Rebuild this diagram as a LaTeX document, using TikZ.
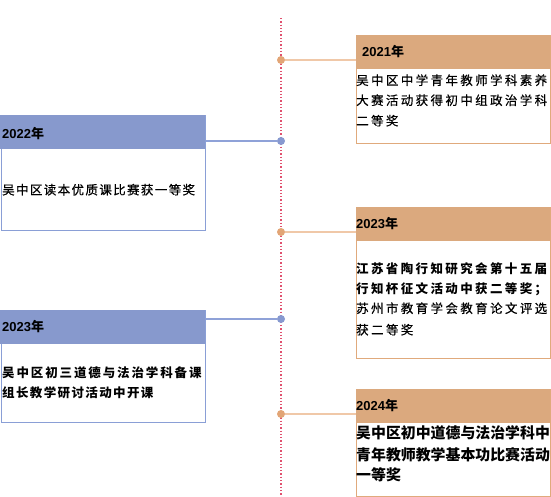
\documentclass[tikz,border=0pt]{standalone}
\usepackage{fontspec}
\setmainfont{Liberation Sans}
\newfontfamily\cjk{Noto Sans CJK SC}
\definecolor{hdrO}{RGB}{219,169,126}
\definecolor{brdO}{RGB}{224,170,124}
\definecolor{conO}{RGB}{240,200,168}
\definecolor{dotOc}{RGB}{226,165,118}
\definecolor{hdrB}{RGB}{135,153,205}
\definecolor{brdB}{RGB}{138,159,214}
\definecolor{conB}{RGB}{143,162,216}
\definecolor{dotBc}{RGB}{135,153,208}
\definecolor{tline}{RGB}{224,80,110}
\tikzset{
  frameO/.style={draw=brdO, line width=1pt, anchor=north west, minimum width=194pt, inner sep=0pt},
  frameB/.style={draw=brdB, line width=1pt, anchor=north west, minimum width=204pt, inner sep=0pt},
  hdrbox/.style={anchor=north west, minimum height=34pt, inner sep=0pt},
  hdrtext/.style={anchor=west, inner sep=0pt, font=\fontsize{13}{15}\selectfont\bfseries},
  bodyline/.style={anchor=base west, inner sep=0pt},
  dotO/.style={circle, fill=dotOc, minimum size=8pt, inner sep=0pt},
  dotB/.style={circle, fill=dotBc, minimum size=8pt, inner sep=0pt},
  conOl/.style={draw=conO, line width=1.6pt},
  conBl/.style={draw=conB, line width=1.3pt},
}
\newcommand\yr[1]{#1{\cjk\bfseries 年}}
\newcommand\bodyfont[1]{\cjk\fontsize{12.5}{14}\selectfont\addfontfeature{LetterSpace=#1,FakeBold=0.5}}
\newcommand\bodyfontb[1]{\cjk\fontsize{12.5}{14}\selectfont\bfseries\addfontfeature{LetterSpace=#1}}
\begin{document}
\begin{tikzpicture}[x=1pt,y=-1pt]
\useasboundingbox (0,0) rectangle (551,497);
% timeline
\coordinate (ttop) at (281,18);
\coordinate (tbot) at (281,497);
\draw[tline, line width=1.2pt, dash pattern=on 1.3pt off 2pt] (ttop) -- (tbot);

% ---------- 2021 (right) ----------
\node[frameO, minimum height=108pt] (f21) at (356,35) {};
\node[hdrbox, fill=hdrO, minimum width=194pt] (h21) at (356,35) {};
\node[hdrtext] (y21) at (362,52) {\yr{2021}};
\begin{scope}[every node/.style={bodyline, font=\bodyfont{19}}]
\node (a21a) at (356,85) {吴中区中学青年教师学科素养};
\node (a21b) at (356,105) {大赛活动获得初中组政治学科};
\node (a21c) at (356,125.5) {二等奖};
\end{scope}

% ---------- 2022 (left) ----------
\node[frameB, minimum height=115pt] (f22) at (0.5,115) {};
\node[hdrbox, fill=hdrB, minimum width=205pt] (h22) at (0,115) {};
\node[hdrtext] (y22) at (2,133.5) {\yr{2022}};
\node[bodyline, font=\bodyfont{11}] (a22a) at (2,194.5) {吴中区读本优质课比赛获一等奖};

% ---------- 2023 (right) ----------
\node[frameO, minimum height=151pt] (f23r) at (356,207) {};
\node[hdrbox, fill=hdrO, minimum width=194pt] (h23r) at (356,207) {};
\node[hdrtext] (y23r) at (356,224) {\yr{2023}};
\node[bodyline, font=\bodyfontb{19}] (a23a) at (356,273.5) {江苏省陶行知研究会第十五届};
\node[bodyline, font=\bodyfontb{19}] (a23b) at (356,293) {行知杯征文活动中获二等奖；};
\node[bodyline, font=\bodyfont{19}] (a23c) at (356,313) {苏州市教育学会教育论文评选};
\node[bodyline, font=\bodyfont{19}] (a23d) at (356,334.5) {获二等奖};

% ---------- 2023 (left) ----------
\node[frameB, minimum height=112pt] (f23l) at (0.5,310) {};
\node[hdrbox, fill=hdrB, minimum width=205pt] (h23l) at (0,310) {};
\node[hdrtext] (y23l) at (2,327) {\yr{2023}};
\node[bodyline, font=\bodyfontb{15}] (a23e) at (2,377.5) {吴中区初三道德与法治学科备课};
\node[bodyline, font=\bodyfontb{11}] (a23f) at (2,397.5) {组长教学研讨活动中开课};

% ---------- 2024 (right) ----------
\node[frameO, minimum height=107pt] (f24) at (356,389) {};
\node[hdrbox, fill=hdrO, minimum width=194pt] (h24) at (356,389) {};
\node[hdrtext] (y24) at (356,406) {\yr{2024}};
\begin{scope}[every node/.style={bodyline, font=\cjk\fontsize{14.9}{16}\selectfont\bfseries}]
\node (a24a) at (356,438.5) {吴中区初中道德与法治学科中};
\node (a24b) at (356,460) {青年教师教学基本功比赛活动};
\node (a24c) at (356,480.5) {一等奖};
\end{scope}

% ---------- dots and connectors ----------
\node[dotO] (d1) at (281,60) {};
\node[dotB] (d2) at (281,141) {};
\node[dotO] (d3) at (281,232) {};
\node[dotB] (d4) at (281,319) {};
\node[dotO] (d5) at (281,414) {};
\draw[conOl] (d1.east) -- (d1 -| f21.west);
\draw[conBl] (d2.west) -- (d2 -| f22.east);
\draw[conOl] (d3.east) -- (d3 -| f23r.west);
\draw[conBl] (d4.west) -- (d4 -| f23l.east);
\draw[conOl] (d5.east) -- (d5 -| f24.west);
\end{tikzpicture}
\end{document}
